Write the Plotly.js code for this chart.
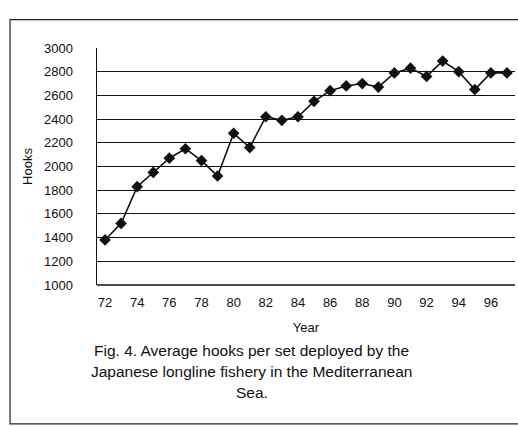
<!DOCTYPE html>
<html>
<head>
<meta charset="utf-8">
<script src="https://cdn.plot.ly/plotly-3.0.1.min.js"></script>
<style>
html,body{margin:0;padding:0;background:#fff;}
#chart{width:518px;height:427px;}
</style>
</head>
<body>
<div id="chart"></div>
<script>
const years = [72,73,74,75,76,77,78,79,80,81,82,83,84,85,86,87,88,89,90,91,92,93,94,95,96,97];
const hooks = [1380,1520,1830,1950,2070,2150,2050,1920,2280,2160,2420,2390,2420,2550,2640,2680,2700,2670,2790,2830,2760,2890,2800,2650,2790,2790];
const xTicks = [72,74,76,78,80,82,84,86,88,90,92,94,96];
const yTicks = [1000,1200,1400,1600,1800,2000,2200,2400,2600,2800,3000];
const captionLines = [
  "Fig. 4. Average hooks per set deployed by the",
  "Japanese longline fishery in the Mediterranean",
  "Sea."
];

const font = "Liberation Sans, Arial, sans-serif";

const trace = {
  x: years, y: hooks, type: 'scatter', mode: 'lines+markers',
  line: {color: '#111', width: 1.6},
  marker: {symbol: 'diamond', size: 9, color: '#111'},
  hoverinfo: 'skip'
};

const layout = {
  width: 518, height: 427,
  margin: {l: 97, r: 3, t: 48, b: 142},
  paper_bgcolor: '#fff', plot_bgcolor: '#fff',
  showlegend: false,
  font: {family: font, color: '#111', size: 13},
  xaxis: {
    range: [71.5, 97.5], tickvals: xTicks, ticktext: xTicks.map(String),
    showgrid: false, zeroline: false, showline: false,
    ticks: '', ticklabelstandoff: 8,
    tickfont: {family: font, size: 13, color: '#111'},
    title: {text: 'Year', font: {family: font, size: 13, color: '#111'}, standoff: 13}
  },
  yaxis: {
    range: [1000, 3000], tickvals: yTicks,
    showgrid: true, gridcolor: '#111', gridwidth: 1,
    zeroline: false, showline: true, linecolor: '#111', linewidth: 1.5,
    ticks: '', ticklabelstandoff: 20,
    tickfont: {family: font, size: 13, color: '#111'},
    title: {text: 'Hooks', font: {family: font, size: 13, color: '#111'}, standoff: 8}
  },
  shapes: [
    {type: 'line', xref: 'paper', yref: 'paper', x0: 0, x1: 1, y0: 0, y1: 0, line: {color: '#111', width: 1.5}},
    {type: 'rect', xref: 'paper', yref: 'paper', x0: -0.208, x1: 1.02, y0: -0.586, y1: 1.12, line: {color: '#222', width: 1.2}}
  ],
  annotations: captionLines.map((t, i) => ({
    text: t, xref: 'paper', yref: 'paper', x: 0.37, y: -0.275 - i * 0.09,
    xanchor: 'center', yanchor: 'middle', showarrow: false,
    font: {family: font, size: 15.5, color: '#111'}
  }))
};

Plotly.newPlot('chart', [trace], layout, {displayModeBar: false, staticPlot: true});
</script>
</body>
</html>
